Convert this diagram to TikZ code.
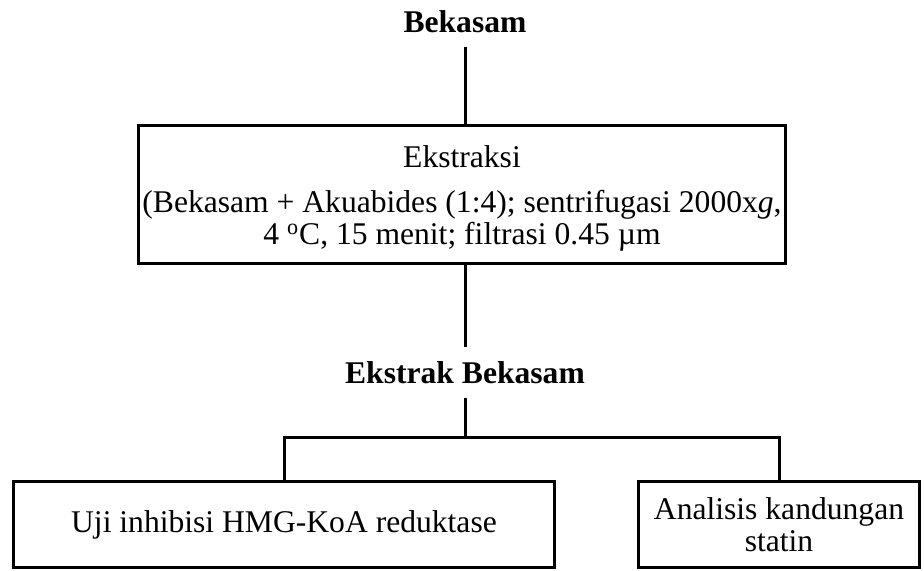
\documentclass[tikz,border=0pt]{standalone}
\usepackage{fontspec}
\setmainfont{Liberation Serif}
\usetikzlibrary{positioning}
\tikzset{
    flowbox/.style={draw, line width=1.5pt, align=center, inner sep=0pt,
        font=\fontsize{15.8}{16}\selectfont},
    flowlabel/.style={anchor=base, inner xsep=0pt, inner ysep=6.5pt,
        font=\fontsize{15.8}{16}\selectfont\bfseries},
    link/.style={line width=1.5pt}
}

\begin{document}
\begin{tikzpicture}[x=0.5pt, y=-0.5pt]
    \useasboundingbox (0,0) rectangle (924,571);

    % --- BAHAN ---
    \node[flowlabel] (bekasam) at (465,33) {Bekasam};

    % --- EKSTRAKSI ---
    \node[flowbox, minimum width=323.5pt, minimum height=69pt] (ekstraksi) at (462,194.5)
        {\rule{0pt}{15pt}Ekstraksi\\[6.5pt]
         (Bekasam + Akuabides (1:4); sentrifugasi 2000x\textit{g},\\
         4 \textsuperscript{o}C, 15 menit; filtrasi 0.45 µm};

    \node[flowlabel, inner ysep=7pt] (ekstrak) at (465,383) {Ekstrak Bekasam};

    % --- ANALISIS ---
    \node[flowbox, minimum width=270.5pt, minimum height=43pt] (uji) at (284,524.5)
        {Uji inhibisi HMG-KoA reduktase};
    \node[flowbox, minimum width=140.5pt, minimum height=43pt] (analisis) at (779,524.5)
        {Analisis kandungan\\ statin};

    % --- GARIS ---
    \coordinate (cabang) at (ekstrak.south |- 0,437);
    \draw[link] (bekasam.south) -- (bekasam.south |- ekstraksi.north);
    \draw[link] (ekstrak.north |- ekstraksi.south) -- (ekstrak.north);
    \draw[link] (ekstrak.south) -- (cabang);
    \draw[link] (uji.north) |- (cabang) -| (analisis.north);
\end{tikzpicture}
\end{document}
